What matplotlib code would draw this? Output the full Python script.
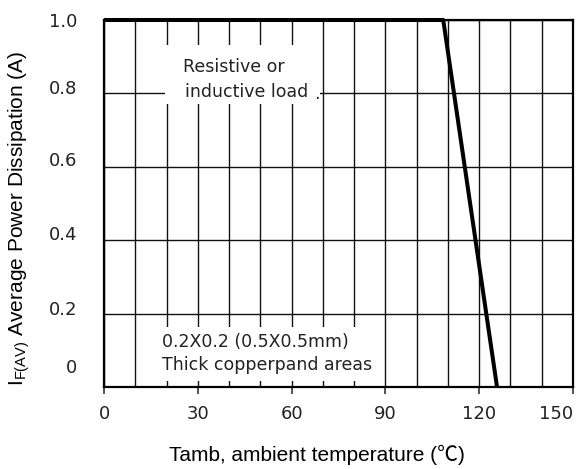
import numpy as np
import matplotlib
matplotlib.use("Agg")
import matplotlib.pyplot as plt
from matplotlib.patches import Rectangle
from matplotlib.transforms import ScaledTranslation

# ---- data ----
temp = [0, 108.5, 125.7]          # ambient temperature (deg C)
current = [1.0, 1.0, 0.0]         # IF(AV) (A)
xtick_values = [0, 30, 60, 90, 120, 150]
xtick_labels = ["0", "30", "60", "90", "120", "150"]
ytick_values = [0.0, 0.2, 0.4, 0.6, 0.8, 1.0]
ytick_labels = ["0", "0.2", "0.4", "0.6", "0.8", "1.0"]
xgrid_values = list(range(0, 151, 10))
note_top = ["Resistive or", "inductive load"]
note_bottom = ["0.2X0.2 (0.5X0.5mm)", "Thick copperpand areas"]

W, H, DPI = 584, 469, 100
fig = plt.figure(figsize=(W / DPI, H / DPI), dpi=DPI)
ax = fig.add_axes([104 / W, 1 - 387 / H, (573 - 104) / W, (387 - 20) / H])
ax.set_xlim(0, 150)
ax.set_ylim(0, 1.0)
ax.set_axisbelow(True)

tick_font = dict(family="DejaVu Sans", size=13, color="#222222")
label_family = ["Liberation Sans", "Noto Sans CJK SC", "DejaVu Sans"]

# x axis
ax.set_xticks(xtick_values)
ax.set_xticklabels(xtick_labels, **tick_font)
ax.set_xticks(xgrid_values, minor=True)
ax.get_xticklabels()[-1].set_ha("right")
ax.tick_params(axis="x", which="major", direction="out", length=5, width=1.2, pad=8, color="#333333")
ax.tick_params(axis="x", which="minor", length=0)

# y axis
ax.set_yticks(ytick_values)
ax.set_yticklabels(ytick_labels, **tick_font)
ax.tick_params(axis="y", which="both", length=0, pad=19)
px_offsets = [21, 6, 7, 7.5, 6, 0.5]
for lab, dy in zip(ax.get_yticklabels(), px_offsets):
    lab.set_transform(lab.get_transform() + ScaledTranslation(0, dy / DPI, fig.dpi_scale_trans))

ax.grid(True, which="both", color="#111111", linewidth=1.0)

for s in ax.spines.values():
    s.set_linewidth(1.6)
    s.set_color("black")

# white boxes behind notes
ax.add_patch(Rectangle((19.5, 0.771), 49.5, 0.161, transform=ax.transData,
                       facecolor="white", edgecolor="none", zorder=1))
ax.add_patch(Rectangle((17.9, 0.016), 71.0, 0.147, transform=ax.transData,
                       facecolor="white", edgecolor="none", zorder=1))

# curve
ax.plot(temp, current, color="black", linewidth=2.9, solid_capstyle="butt",
        clip_on=False, zorder=3)

note_font = dict(family="DejaVu Sans", size=12.5, color="#222222", zorder=4)
ax.text(25.3, 0.858, note_top[0], ha="left", va="baseline", **note_font)
ax.text(25.9, 0.790, note_top[1], ha="left", va="baseline", **note_font)
ax.text(67.3, 0.785, ".", ha="left", va="baseline", **note_font)
ax.text(18.5, 0.109, note_bottom[0], ha="left", va="baseline", **note_font)
ax.text(18.5, 0.046, note_bottom[1], ha="left", va="baseline", **note_font)

# axis labels
ax.set_xlabel("Tamb, ambient temperature (\u2103)", family=label_family, fontsize=15)
ax.xaxis.label.set_va("baseline")
ax.xaxis.set_label_coords(0.455, -0.2016)

ax.set_ylabel(r"I$_\mathregular{F(AV)}$ Average Power Dissipation (A)", family=label_family, fontsize=15)
ax.yaxis.label.set_va("baseline")
ax.yaxis.set_label_coords(-0.1727, 0.4605)

fig.savefig("out.png", dpi=DPI)
